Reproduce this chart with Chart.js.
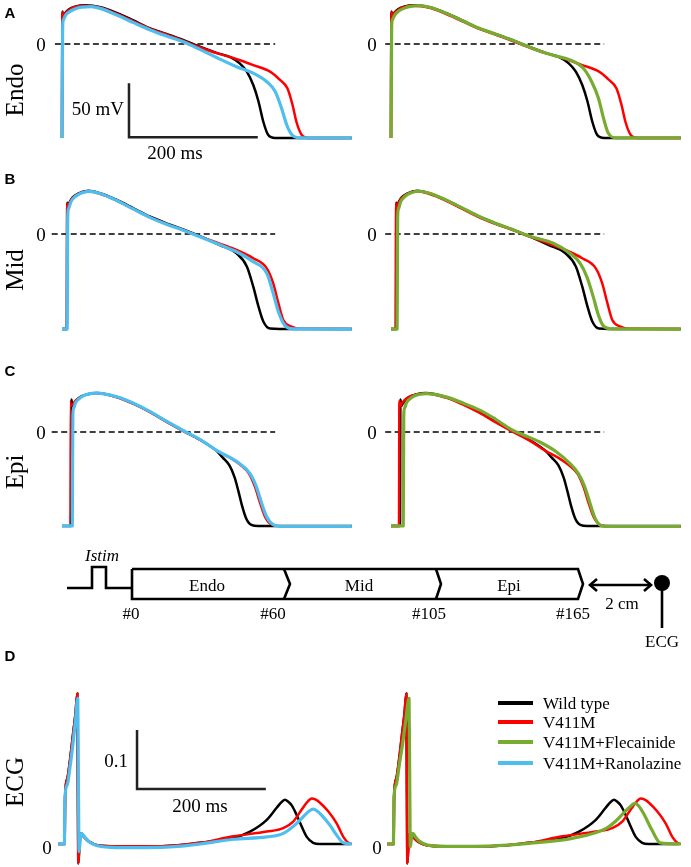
<!DOCTYPE html>
<html><head><meta charset="utf-8">
<script src="https://cdn.jsdelivr.net/npm/chart.js@4.4.1/dist/chart.umd.min.js"></script>
<style>
html,body{margin:0;padding:0;background:#fff;}
body{width:691px;height:867px;overflow:hidden;position:relative;font-family:"Liberation Serif","Times New Roman",serif;color:#000;}
canvas{position:absolute;}
.t{position:absolute;white-space:nowrap;line-height:1;transform:translate(-50%,-50%);}
.r{transform:translate(-100%,-50%);}
.l{transform:translate(0,-50%);}
.rot{transform:translate(-50%,-50%) rotate(-90deg);font-size:25px;}
.let{font-family:"Liberation Sans",Arial,sans-serif;font-weight:bold;font-size:15px;}
.s19{font-size:19px;}
.s17{font-size:17px;}
svg{position:absolute;left:0;top:0;}
.leg{position:absolute;height:4px;width:35px;left:498px;}
</style>
</head>
<body>
<canvas id="aL" width="301" height="149" style="left:51px;top:-4px"></canvas>
<canvas id="aR" width="301" height="149" style="left:380px;top:-4px"></canvas>
<canvas id="bL" width="301" height="149" style="left:51px;top:186px"></canvas>
<canvas id="bR" width="301" height="149" style="left:380px;top:186px"></canvas>
<canvas id="cL" width="301" height="149" style="left:51px;top:384px"></canvas>
<canvas id="cR" width="301" height="149" style="left:380px;top:384px"></canvas>
<canvas id="dL" width="301" height="178" style="left:51px;top:689px"></canvas>
<canvas id="dR" width="301" height="178" style="left:380px;top:689px"></canvas>

<svg width="691" height="867" viewBox="0 0 691 867">
  <g fill="none" stroke="#000" stroke-width="2.6" stroke-linejoin="miter">
    <polyline points="67,588 92,588 92,567 106,567 106,588 132,588"/>
    <polyline points="132,569 578,569 583,584 578,599 132,599 132,569"/>
    <polyline points="284,569 290,584 284,599"/>
    <polyline points="436,569 441,584 436,599"/>
    <line x1="590" y1="585" x2="651" y2="585"/>
    <polyline points="597,579 590,585 597,591"/>
    <polyline points="644,579 651,585 644,591"/>
    <line x1="662" y1="583" x2="662" y2="628"/>
  </g>
  <circle cx="662" cy="583" r="8" fill="#000"/>
</svg>

<div class="t s17" style="left:102px;top:555px;font-style:italic">Istim</div>
<div class="t s17" style="left:207px;top:585px">Endo</div>
<div class="t s17" style="left:359px;top:585px">Mid</div>
<div class="t s17" style="left:509px;top:585px">Epi</div>
<div class="t s17" style="left:131px;top:613px">#0</div>
<div class="t s17" style="left:273px;top:613px">#60</div>
<div class="t s17" style="left:429px;top:613px">#105</div>
<div class="t s17" style="left:573px;top:613px">#165</div>
<div class="t s17" style="left:622px;top:603px">2 cm</div>
<div class="t s17" style="left:662px;top:641px">ECG</div>

<div class="t let" style="left:10px;top:12px">A</div>
<div class="t let" style="left:10px;top:178px">B</div>
<div class="t let" style="left:10px;top:370px">C</div>
<div class="t let" style="left:10px;top:655px">D</div>

<div class="t rot" style="left:14px;top:90px">Endo</div>
<div class="t rot" style="left:14px;top:270px">Mid</div>
<div class="t rot" style="left:14px;top:472px">Epi</div>
<div class="t rot" style="left:14px;top:782px">ECG</div>

<div class="t s19" style="left:41px;top:44px">0</div>
<div class="t s19" style="left:372px;top:44px">0</div>
<div class="t s19" style="left:41px;top:234px">0</div>
<div class="t s19" style="left:372px;top:234px">0</div>
<div class="t s19" style="left:41px;top:432px">0</div>
<div class="t s19" style="left:372px;top:432px">0</div>
<div class="t s19" style="left:47px;top:847px">0</div>
<div class="t s19" style="left:377px;top:847px">0</div>

<div class="t r s19" style="left:124px;top:108px">50 mV</div>
<div class="t s19" style="left:175px;top:152px">200 ms</div>
<div class="t r s19" style="left:128px;top:760px">0.1</div>
<div class="t s19" style="left:200px;top:805px">200 ms</div>

<div class="leg" style="top:701px;background:#000"></div>
<div class="leg" style="top:720px;background:#ff0000"></div>
<div class="leg" style="top:740px;background:#77ac30"></div>
<div class="leg" style="top:761px;background:#4dbeee"></div>
<div class="t l s17" style="left:543px;top:703px">Wild type</div>
<div class="t l s17" style="left:543px;top:722px">V411M</div>
<div class="t l s17" style="left:543px;top:742px">V411M+Flecainide</div>
<div class="t l s17" style="left:543px;top:763px">V411M+Ranolazine</div>

<script>
// ---------- series: time (ms) and membrane potential (mV) ----------
// Endo
const endoWT_t   = [0, 0.6, 2, 6, 12, 20, 36, 60, 85, 111, 137, 162, 188, 214, 240, 262, 276, 287, 297, 305, 312.6, 320, 331, 360, 450];
const endoWT_v   = [-87, 30, 26.5, 29.5, 32.5, 34.5, 35.8, 34, 28.8, 21.8, 14.5, 9.3, 3.7, -2.5, -8.2, -12.5, -17.9, -25.6, -38, -53, -72, -84, -87, -87, -87];
const endoMut_t  = [0, 0.6, 2, 6, 12, 20, 36, 60, 85, 111, 137, 162, 188, 214, 240, 266, 297, 323, 338, 350, 358, 364, 372, 383, 450];
const endoMut_v  = [-87, 29.5, 26, 29, 32, 34.2, 35.5, 33.6, 28, 21, 14, 8.8, 3, -3, -8.5, -13, -19.5, -25.6, -33, -41, -56.5, -72, -84, -87, -87];
const endoRan_t  = [0, 1, 2, 6, 12, 20, 30, 45, 59, 85, 111, 137, 162, 188, 214, 240, 271, 297, 318, 331, 341, 349, 357, 370, 450];
const endoRan_v  = [-87, 15, 22, 27, 30, 32.5, 34.2, 34.6, 33, 26.9, 19.8, 13, 7.4, 2, -5, -12.5, -21, -27, -34.9, -44, -59.6, -75, -84, -87, -87];
const endoFlec_t = [0, 1, 2, 6, 12, 20, 30, 45, 60, 85, 111, 137, 162, 188, 214, 240, 255, 278, 298.6, 311.6, 322, 330, 337.5, 350, 450];
const endoFlec_v = [-87, 15, 22, 27, 30.5, 33, 34.8, 35.5, 34, 28.6, 21.6, 14.5, 9.3, 3.6, -2.6, -8.3, -11, -14.8, -22.5, -34.9, -50, -68.8, -82.7, -87, -87];
// Mid
const midWT_t    = [0, 7.5, 8.1, 9.5, 12, 16, 25, 41, 59, 85, 111, 137, 162, 188, 214, 245, 271, 287, 297, 305, 312.6, 323, 360, 450];
const midWT_v    = [-88, -88, 29, 26.5, 29.5, 33.5, 37.5, 40, 37.7, 31.5, 23.8, 16, 9.9, 4.3, -1.9, -10.2, -17.9, -30, -48.8, -67, -81, -87.5, -88, -88];
const midMut_t   = [0, 7.5, 8.1, 9.5, 12, 16, 25, 41, 59, 85, 111, 137, 162, 188, 214, 245, 271, 297, 318, 328, 336, 343.6, 356.6, 370, 450];
const midMut_v   = [-88, -88, 28, 26, 29, 33, 37, 39.6, 37.2, 31, 23.2, 15.4, 9.4, 3.8, -2.2, -8.9, -14.8, -22.5, -31.8, -45.7, -64, -79.6, -85.8, -87.8, -88];
const midRan_t   = [0, 8, 8.8, 10, 14, 20, 30, 42, 59, 85, 111, 137, 162, 188, 214, 245, 271, 297, 318, 328, 336, 346, 359, 450];
const midRan_v   = [-88, -88, 15, 23, 30, 34.5, 38, 39.5, 37.5, 31, 23, 15.2, 9, 3.5, -2.5, -10, -16.4, -25.6, -36.4, -55, -72, -84.6, -87.8, -88];
const midFlec_t  = [0, 9.5, 10.3, 11.5, 15, 21, 30, 43, 60, 85, 111, 137, 162, 188, 214, 252, 278, 293.5, 304, 314, 322, 329.7, 342.7, 450];
const midFlec_v  = [-88, -88, 15, 23, 30, 34.5, 38, 39.6, 37.8, 31.6, 24, 16.2, 10, 4.4, -1.8, -8.6, -17.9, -27, -39.5, -58, -75, -85, -87.8, -88];
// Epi
const epiWT_t    = [0, 14, 14.6, 16, 18, 22, 28, 40, 54, 85, 111, 137, 162, 188, 214, 240, 250, 260, 268, 274, 279, 286, 294, 305, 450];
const epiWT_v    = [-87, -87, 30, 24, 26, 29, 32.4, 35, 36, 32.4, 26.3, 18.5, 9.8, 1.2, -7, -17.5, -24, -31, -42, -55, -67, -80, -86, -87, -87];
const epiMut_t   = [0, 12.4, 13, 14.5, 17, 21, 28, 40, 54, 85, 111, 137, 162, 188, 214, 240, 260, 276, 290, 299, 307, 315, 325, 340, 450];
const epiMut_v   = [-87, -87, 29, 24, 26.5, 29.5, 32.5, 34.8, 35.6, 31.8, 25.6, 17.8, 9, 0.5, -7.5, -17.5, -24, -30.5, -39, -51, -66, -79, -86, -87.5, -87.5];
const epiRan_t   = [0, 16, 16.8, 18, 21, 26, 33, 42, 54, 85, 111, 137, 162, 188, 214, 240, 276, 292, 302, 310, 318, 328, 344, 450];
const epiRan_v   = [-87, -87, 15, 22, 27, 30.5, 33.5, 35.3, 36, 32.6, 26.6, 18.8, 10, 1.4, -6.8, -17, -29.3, -38.6, -51, -66, -78.7, -85.7, -87.5, -87.5];
const epiFlec_t  = [0, 19, 19.8, 21, 24, 29, 36, 45, 55, 85, 111, 137, 162, 188, 205, 231, 257, 278, 291, 301, 309, 317, 327.5, 345, 450];
const epiFlec_v  = [-87, -87, 15, 22, 27, 30.5, 33.3, 35, 35.5, 32.5, 27, 20.5, 12, 2, -2.5, -9.3, -18.5, -29.3, -38.6, -51, -66, -80, -87, -87.5, -87.5];
// ECG (pseudo-ECG, arbitrary units)
const ecgWT_t    = [-6, 4.2, 4.8, 8, 12.4, 17, 21, 23.8, 24.6, 25.4, 27.5, 29.5, 34, 42, 55, 85, 130, 180, 214, 240, 266, 292, 318, 333, 340, 346, 351, 357, 364, 370, 380, 390, 400, 447];
const ecgWT_e    = [0, 0, 0.080, 0.110, 0.142, 0.185, 0.222, 0.255, 0.10, -0.033, 0.005, 0.018, 0.012, 0.004, -0.002, -0.004, -0.004, -0.002, 0.002, 0.005, 0.010, 0.021, 0.041, 0.061, 0.070, 0.075, 0.072, 0.065, 0.050, 0.035, 0.012, 0.002, 0, 0];
const ecgMut_t   = [-6, 4.2, 4.8, 8, 12.4, 17, 21, 23.8, 24.6, 25.4, 27.5, 29.5, 34, 42, 55, 85, 130, 180, 214, 266, 318, 343.6, 359, 372, 380, 387.7, 394, 400.6, 413.6, 426.5, 436.8, 444.6, 450];
const ecgMut_e   = [0, 0, 0.080, 0.110, 0.142, 0.185, 0.222, 0.255, 0.10, -0.033, 0.005, 0.018, 0.012, 0.004, -0.002, -0.004, -0.004, -0.002, 0.002, 0.013, 0.021, 0.027, 0.038, 0.058, 0.070, 0.077, 0.075, 0.070, 0.055, 0.035, 0.012, 0.002, 0];
const ecgRan_t   = [-6, 3.8, 4.4, 8, 12.4, 17, 21, 24.5, 25.5, 26.5, 28.5, 30.5, 35, 43, 55, 85, 130, 180, 214, 266, 318, 343.6, 364.5, 377, 384, 390, 396, 403, 416, 426.5, 436.8, 450];
const ecgRan_e   = [0, 0, 0.075, 0.100, 0.13, 0.17, 0.21, 0.247, 0.10, -0.013, 0.008, 0.018, 0.012, 0.003, -0.003, -0.006, -0.006, -0.004, 0, 0.008, 0.012, 0.018, 0.035, 0.049, 0.056, 0.059, 0.056, 0.049, 0.032, 0.015, 0.002, 0];
const ecgFlec_t  = [-6, 3.8, 4.4, 8, 13, 18, 23, 28, 29, 30, 32, 34, 38, 45, 57, 85, 130, 180, 214, 283, 335, 350, 360.7, 370, 379, 385, 392, 405, 418, 450];
const ecgFlec_e  = [0, 0, 0.075, 0.100, 0.135, 0.17, 0.21, 0.247, 0.12, -0.005, 0.012, 0.018, 0.012, 0.004, -0.002, -0.004, -0.004, -0.002, 0.001, 0.010, 0.027, 0.040, 0.052, 0.062, 0.069, 0.064, 0.052, 0.024, 0.002, 0];

// reference lines and scale bars
const zeroL_A_t = [-11, 331];
const zeroL_BC_t = [-16, 331];
const zeroR_t = [-9, 331];
const zero_v = [0, 0];
const apBar_t = [104, 104, 304];
const apBar_v = [-36.4, -86.4, -86.4];   // 50 mV, 200 ms
const ecgBar_t = [116.5, 116.5, 316.5];
const ecgBar_e = [0.193, 0.093, 0.093];  // 0.1, 200 ms

const C_WT = '#000000', C_MUT = '#ff0000', C_FLEC = '#77ac30', C_RAN = '#4dbeee';
const XMIN = -17.08, XMAX = 450.3;
const AP_MIN = -93.52, AP_MAX = 44.44;
const ECG_MIN = -0.039, ECG_MAX = 0.2627;

function pts(t, v) { return t.map((x, i) => ({ x: x, y: v[i] })); }
function trace(t, v, color, w) {
  return { data: pts(t, v), borderColor: color, borderWidth: w, pointRadius: 0, fill: false,
           cubicInterpolationMode: 'monotone', borderJoinStyle: 'round', borderCapStyle: 'butt' };
}
function straight(t, v, color, w, dash) {
  return { data: pts(t, v), borderColor: color, borderWidth: w, pointRadius: 0, fill: false,
           tension: 0, borderDash: dash || [], borderCapStyle: 'butt', borderJoinStyle: 'miter' };
}
function make(id, ymin, ymax, datasets) {
  new Chart(document.getElementById(id), {
    type: 'line',
    data: { datasets: datasets },
    options: {
      responsive: false, animation: false, events: [],
      layout: { padding: 0 },
      plugins: { legend: { display: false }, tooltip: { enabled: false } },
      scales: {
        x: { type: 'linear', min: XMIN, max: XMAX, display: false },
        y: { type: 'linear', min: ymin, max: ymax, display: false }
      }
    }
  });
}
const W1 = 2.5, W2 = 3.2;
// Row A (Endo)
make('aL', AP_MIN, AP_MAX, [
  trace(endoRan_t, endoRan_v, C_RAN, W2),
  trace(endoMut_t, endoMut_v, C_MUT, W1),
  trace(endoWT_t, endoWT_v, C_WT, W1),
  straight(zeroL_A_t, zero_v, '#000', 1.6, [6, 3.5]),
  straight(apBar_t, apBar_v, '#222', 2.5)
]);
make('aR', AP_MIN, AP_MAX, [
  trace(endoFlec_t, endoFlec_v, C_FLEC, W2),
  trace(endoMut_t, endoMut_v, C_MUT, W1),
  trace(endoWT_t, endoWT_v, C_WT, W1),
  straight(zeroR_t, zero_v, '#000', 1.6, [6, 3.5])
]);
// Row B (Mid)
make('bL', AP_MIN, AP_MAX, [
  trace(midRan_t, midRan_v, C_RAN, W2),
  trace(midMut_t, midMut_v, C_MUT, W1),
  trace(midWT_t, midWT_v, C_WT, W1),
  straight(zeroL_BC_t, zero_v, '#000', 1.6, [6, 3.5])
]);
make('bR', AP_MIN, AP_MAX, [
  trace(midFlec_t, midFlec_v, C_FLEC, W2),
  trace(midMut_t, midMut_v, C_MUT, W1),
  trace(midWT_t, midWT_v, C_WT, W1),
  straight(zeroR_t, zero_v, '#000', 1.6, [6, 3.5])
]);
// Row C (Epi)
make('cL', AP_MIN, AP_MAX, [
  trace(epiRan_t, epiRan_v, C_RAN, W2),
  trace(epiMut_t, epiMut_v, C_MUT, 1.6),
  trace(epiWT_t, epiWT_v, C_WT, W1),
  straight(zeroL_BC_t, zero_v, '#000', 1.6, [6, 3.5])
]);
make('cR', AP_MIN, AP_MAX, [
  trace(epiFlec_t, epiFlec_v, C_FLEC, W2),
  trace(epiMut_t, epiMut_v, C_MUT, W1),
  trace(epiWT_t, epiWT_v, C_WT, W1),
  straight(zeroR_t, zero_v, '#000', 1.6, [6, 3.5])
]);
// Row D (ECG)
make('dL', ECG_MIN, ECG_MAX, [
  trace(ecgRan_t, ecgRan_e, C_RAN, W2),
  trace(ecgMut_t, ecgMut_e, C_MUT, W1),
  trace(ecgWT_t, ecgWT_e, C_WT, W1),
  straight(ecgBar_t, ecgBar_e, '#222', 2.5)
]);
make('dR', ECG_MIN, ECG_MAX, [
  trace(ecgFlec_t, ecgFlec_e, C_FLEC, W2),
  trace(ecgMut_t, ecgMut_e, C_MUT, W1),
  trace(ecgWT_t, ecgWT_e, C_WT, W1)
]);
</script>
</body></html>
